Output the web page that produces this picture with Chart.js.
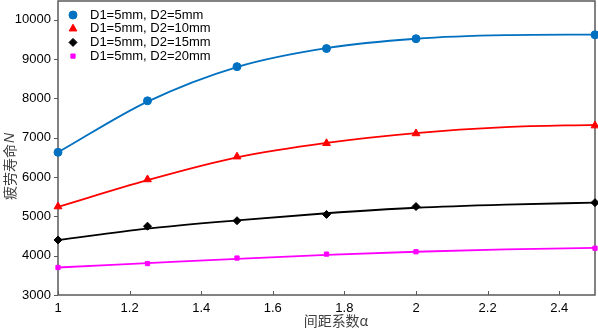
<!DOCTYPE html>
<html>
<head>
<meta charset="utf-8">
<script src="https://cdn.jsdelivr.net/npm/chart.js@4/dist/chart.umd.min.js"></script>
<style>
html, body { margin: 0; padding: 0; background: #fff; }
canvas { display: block; }
</style>
</head>
<body>
<canvas id="fatigueChart" width="598" height="330"></canvas>
<script>
// measured points
var spacing = [1, 1.25, 1.5, 1.75, 2, 2.5];
var lifeD5 = [6630, 7940, 8810, 9270, 9520, 9620];
var lifeD10 = [5250, 5940, 6520, 6860, 7110, 7310];
var lifeD15 = [4400, 4750, 4890, 5050, 5250, 5350];
var lifeD20 = [3700, 3800, 3940, 4040, 4100, 4190];

// fitted curves
var fitSpacing = [1, 1.25, 1.5, 1.75, 2, 2.25, 2.5];
var fitD5 = [6630, 7920, 8800, 9280, 9520, 9610, 9625];
var fitD10 = [5240, 5920, 6500, 6870, 7120, 7270, 7330];
var fitD15 = [4400, 4690, 4900, 5080, 5220, 5300, 5350];
var fitD20 = [3700, 3810, 3920, 4020, 4100, 4160, 4200];

var seriesNames = ["D1=5mm, D2=5mm", "D1=5mm, D2=10mm", "D1=5mm, D2=15mm", "D1=5mm, D2=20mm"];
var seriesColors = ["#0070C0", "#FF0000", "#000000", "#FF00FF"];
var seriesMarkers = ["circle", "triangle", "rectRot", "rect"];
var markerSizes = [4, 4.5, 4, 3];

var xTicks = [1, 1.2, 1.4, 1.6, 1.8, 2, 2.2, 2.4];
var yTicks = [3000, 4000, 5000, 6000, 7000, 8000, 9000, 10000];

var xTitle = "间距系数α";
var yTitle = "疲劳寿命";
var yTitleVar = "N";

function toPoints(xs, ys) {
    return xs.map(function (x, i) { return { x: x, y: ys[i] }; });
}

var pointSets = [lifeD5, lifeD10, lifeD15, lifeD20];
var fitSets = [fitD5, fitD10, fitD15, fitD20];
var datasets = [];

pointSets.forEach(function (vals, i) {
    datasets.push({
        label: seriesNames[i],
        data: toPoints(spacing, vals),
        showLine: false,
        pointStyle: seriesMarkers[i],
        pointRadius: markerSizes[i],
        pointBackgroundColor: seriesColors[i],
        pointBorderColor: seriesColors[i],
        pointBorderWidth: 1,
        clip: 8
    });
});
fitSets.forEach(function (vals, i) {
    datasets.push({
        label: seriesNames[i] + " fit",
        data: toPoints(fitSpacing, vals),
        showLine: true,
        cubicInterpolationMode: "monotone",
        borderColor: seriesColors[i],
        borderWidth: 1.8,
        pointRadius: 0
    });
});

var tickFont = { family: "'Liberation Sans', Arial, sans-serif", size: 13 };

// frame, tick marks, axis titles and legend
var decorPlugin = {
    id: "decor",
    beforeDatasetsDraw: function (chart) {
        var ctx = chart.ctx;
        var a = chart.chartArea;
        ctx.save();
        ctx.strokeStyle = "#595959";
        ctx.lineWidth = 1.5;
        ctx.strokeRect(a.left, a.top, a.right - a.left, a.bottom - a.top);
        ctx.lineWidth = 1;
        ctx.beginPath();
        xTicks.forEach(function (v) {
            var px = Math.round(chart.scales.x.getPixelForValue(v)) + 0.5;
            ctx.moveTo(px, a.bottom);
            ctx.lineTo(px, a.bottom - 4);
        });
        yTicks.forEach(function (v) {
            var py = Math.round(chart.scales.y.getPixelForValue(v)) + 0.5;
            ctx.moveTo(a.left - 4, py);
            ctx.lineTo(a.left, py);
        });
        ctx.stroke();
        ctx.restore();
    },
    afterDraw: function (chart) {
        var ctx = chart.ctx;
        ctx.save();
        // x title
        ctx.fillStyle = "#404040";
        ctx.font = "14px 'Noto Sans CJK SC', sans-serif";
        ctx.textAlign = "center";
        ctx.textBaseline = "middle";
        ctx.fillText(xTitle, 336, 321);
        // y title
        ctx.translate(10, 200);
        ctx.rotate(-Math.PI / 2);
        ctx.textAlign = "left";
        ctx.font = "14px 'Noto Sans CJK SC', sans-serif";
        ctx.fillText(yTitle, 0, 0);
        var w = ctx.measureText(yTitle).width;
        ctx.font = "italic 14px 'Liberation Sans', sans-serif";
        ctx.fillText(yTitleVar, w + 1, 0);
        ctx.restore();

        // legend
        ctx.save();
        ctx.font = "13px 'Liberation Sans', Arial, sans-serif";
        ctx.textBaseline = "middle";
        ctx.textAlign = "left";
        seriesNames.forEach(function (name, i) {
            var y = 15 + i * 13.7;
            ctx.fillStyle = seriesColors[i];
            ctx.strokeStyle = seriesColors[i];
            if (Chart.helpers && Chart.helpers.drawPoint) {
                Chart.helpers.drawPoint(ctx, {
                    pointStyle: seriesMarkers[i],
                    radius: markerSizes[i],
                    rotation: 0,
                    borderWidth: 1
                }, 73, y);
            }
            ctx.fillStyle = "#000";
            ctx.fillText(name, 90, y);
        });
        ctx.restore();
    }
};

new Chart(document.getElementById("fatigueChart").getContext("2d"), {
    type: "scatter",
    data: { datasets: datasets },
    options: {
        responsive: false,
        animation: false,
        devicePixelRatio: 1,
        layout: { autoPadding: false, padding: { top: 1, right: 3, left: 0, bottom: 0 } },
        plugins: {
            legend: { display: false },
            tooltip: { enabled: false }
        },
        scales: {
            x: {
                type: "linear",
                min: 1,
                max: 2.5,
                grid: { display: false, drawTicks: false },
                border: { display: false },
                afterBuildTicks: function (s) { s.ticks = xTicks.map(function (v) { return { value: v }; }); },
                afterFit: function (s) { s.height = 35; s.paddingLeft = 0; s.paddingRight = 0; },
                ticks: { font: tickFont, color: "#000", padding: 6, maxRotation: 0,
                    callback: function (v) { return String(v); } }
            },
            y: {
                type: "linear",
                min: 3000,
                max: 10480,
                grid: { display: false, drawTicks: false },
                border: { display: false },
                afterBuildTicks: function (s) { s.ticks = yTicks.map(function (v) { return { value: v }; }); },
                afterFit: function (s) { s.width = 58; s.paddingTop = 0; s.paddingBottom = 0; },
                ticks: { font: tickFont, color: "#000", padding: 7,
                    callback: function (v) { return String(v); } }
            }
        }
    },
    plugins: [decorPlugin]
});
</script>
</body>
</html>
